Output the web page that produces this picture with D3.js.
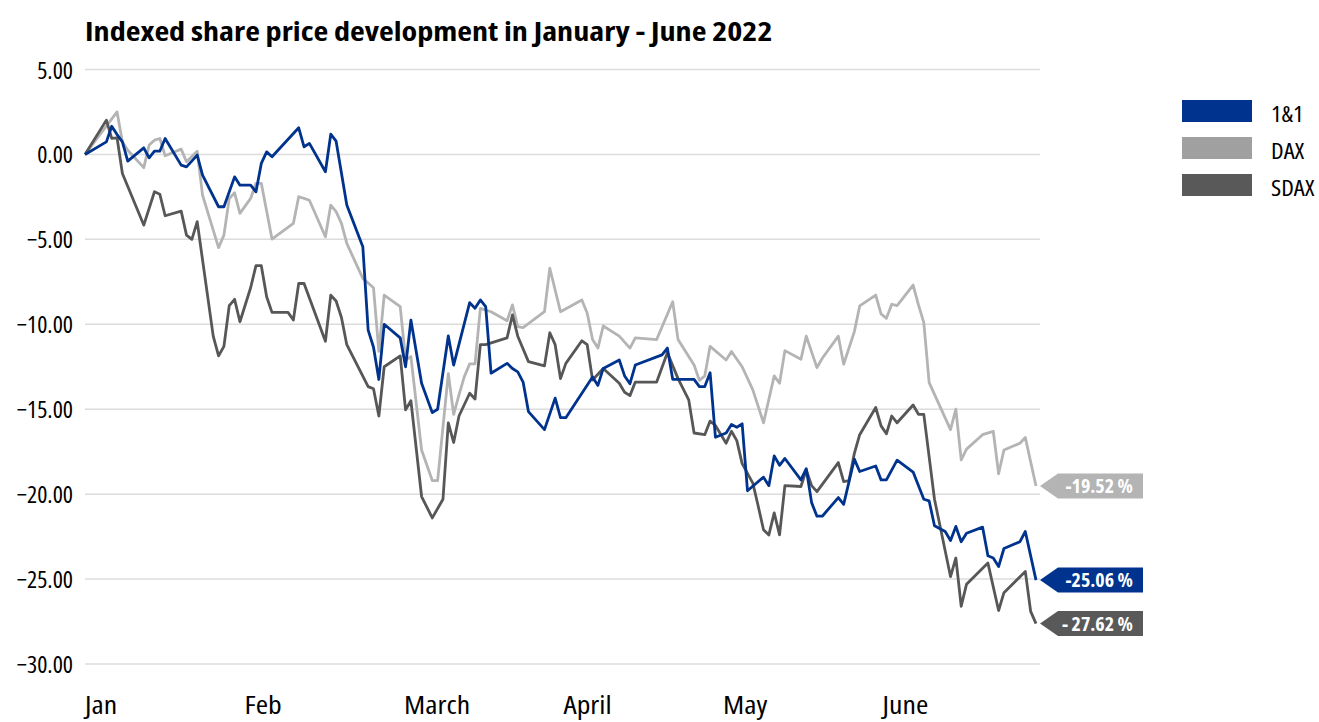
<!DOCTYPE html>
<meta charset="utf-8">
<style>
body { margin: 0; background: #fff; }
text { font-family: "Open Sans", "Liberation Sans Narrow", sans-serif; font-stretch: 75%; }
.grid line { stroke: #dcdcdc; stroke-width: 1.5px; }
.series { fill: none; stroke-width: 2.8px; stroke-linejoin: round; }
</style>
<body>
<script src="https://d3js.org/d3.v7.min.js"></script>
<script>

const width = 1319
const height = 722

// x = calendar days since 3 Jan 2022, y = indexed change in %
const days1and1 = [0,4,5,6,7,8,11,12,13,14,15,18,19,21,22,25,26,28,29,31,32,33,34,35,40,41,42,45,46,47,49,52,53,54,55,56,59,60,61,63,65,66,68,69,72,73,74,75,76,79,80,81,82,83,86,88,89,90,95,96,97,100,101,102,103,108,109,110,114,115,116,117,118,120,121,122,123,124,127,128,129,130,131,134,135,136,137,138,141,142,144,145,148,149,150,152,155,157,158,159,161,162,163,164,165,168,169,170,171,172,175,176,178]
const values1and1 = [0,0.74,1.66,1.17,0.74,-0.39,0.39,-0.2,0.19,0.19,0.94,-0.63,-0.73,-0.04,-1.22,-3.08,-3.08,-1.32,-1.81,-1.81,-2.2,-0.53,0.15,-0.14,1.57,0.45,0.65,-1.02,1.19,0.78,-2.98,-5.43,-10.34,-11.35,-13.25,-10.0,-10.8,-12.5,-9.75,-13.47,-15.2,-15.0,-10.69,-12.4,-8.73,-9.06,-8.57,-8.96,-12.88,-12.3,-12.6,-12.8,-13.4,-15.14,-16.2,-14.35,-15.5,-15.5,-13.1,-13.6,-12.6,-12.1,-13.04,-13.5,-12.4,-11.8,-11.4,-13.24,-13.24,-13.67,-13.67,-12.85,-16.65,-16.4,-15.9,-16.06,-15.86,-19.8,-19.0,-19.5,-17.75,-18.3,-17.9,-19.16,-18.5,-20.5,-21.3,-21.3,-20.2,-20.6,-17.94,-18.67,-18.34,-19.16,-19.16,-18.0,-18.7,-20.3,-20.4,-21.86,-22.2,-22.73,-21.9,-22.8,-22.3,-21.94,-23.63,-23.76,-24.26,-23.2,-22.8,-22.2,-25.06]

const daysDax = [0,6,7,8,11,12,13,14,15,18,19,21,22,25,26,27,28,29,31,32,33,35,39,40,41,42,45,46,47,48,49,52,54,55,56,59,60,61,63,65,66,68,69,70,71,72,73,74,76,79,80,81,82,86,87,89,93,94,95,96,97,100,102,103,107,110,111,114,115,116,117,120,121,123,125,127,129,130,131,134,135,137,138,141,142,144,145,148,149,150,151,152,155,156,157,158,162,163,164,165,168,170,171,172,175,176,178]
const valuesDax = [0,2.5,0.74,0.25,-0.78,0.55,0.84,0.94,-0.08,0.31,-0.43,0.19,-2.4,-5.49,-4.75,-2.59,-2.26,-3.47,-2.59,-1.7,-1.7,-4.98,-4.06,-2.49,-2.59,-2.7,-4.85,-2.98,-3.37,-4.06,-5.24,-7.3,-7.85,-11.6,-8.28,-8.96,-12.1,-11.9,-17.4,-19.2,-19.2,-12.9,-15.3,-14.16,-13.08,-12.33,-12.33,-9.06,-9.26,-9.79,-8.86,-10.14,-10.2,-9.26,-6.7,-9.26,-8.57,-9.35,-10.9,-11.4,-10.1,-10.7,-11.4,-10.8,-10.9,-8.67,-10.9,-12.4,-13.3,-13.04,-11.3,-12.1,-11.6,-12.5,-13.86,-15.8,-13.04,-13.47,-11.55,-12.06,-10.7,-12.55,-12.0,-10.7,-12.35,-10.43,-8.92,-8.28,-9.39,-9.65,-8.82,-8.9,-7.69,-8.86,-9.9,-13.43,-16.2,-15.0,-17.98,-17.35,-16.5,-16.3,-18.8,-17.4,-17.0,-16.67,-19.52]

const daysSdax = [0,4,5,6,7,11,13,14,15,18,19,20,21,24,25,26,27,28,29,31,32,33,34,35,38,39,40,41,45,46,47,48,49,53,54,55,56,59,60,61,63,65,67,68,69,70,72,73,74,75,79,80,81,83,86,87,88,89,90,93,94,95,97,100,101,102,103,107,109,111,113,114,116,117,118,120,121,122,123,125,126,127,128,129,130,131,134,135,136,137,141,142,143,144,145,148,149,150,151,152,155,156,157,159,162,163,164,165,169,171,172,176,177,178]
const valuesSdax = [0,2.02,0.94,0.98,-1.12,-4.16,-2.2,-2.34,-3.61,-3.34,-4.75,-5.0,-3.96,-10.7,-11.86,-11.3,-8.9,-8.53,-9.85,-7.85,-6.55,-6.55,-8.38,-9.3,-9.3,-9.75,-7.59,-7.6,-11.0,-8.28,-8.63,-9.6,-11.2,-13.67,-13.8,-15.4,-12.5,-11.86,-15.04,-14.5,-20.14,-21.4,-20.3,-15.8,-16.96,-15.4,-14.06,-14.4,-11.2,-11.2,-10.8,-9.45,-10.7,-12.2,-12.45,-10.5,-11.2,-13.2,-12.3,-10.97,-11.2,-13.28,-12.6,-13.47,-14.0,-14.2,-13.4,-13.4,-11.67,-13.2,-14.45,-16.4,-16.5,-15.7,-15.96,-17.0,-16.3,-16.85,-18.2,-19.35,-20.7,-22.1,-22.4,-21.1,-22.4,-19.5,-19.55,-18.57,-19.5,-19.85,-18.14,-19.26,-19.2,-17.6,-16.5,-14.9,-15.98,-16.45,-15.4,-15.8,-14.75,-15.3,-15.3,-20.3,-24.85,-23.76,-26.6,-25.3,-24.06,-26.85,-25.8,-24.55,-26.9,-27.62]

const months = ['Jan', 'Feb', 'March', 'April', 'May', 'June']
const yTicks = [5, 0, -5, -10, -15, -20, -25, -30]
const seriesNames = ['1&1', 'DAX', 'SDAX']
const legendColors = ['#00338d', '#a0a0a0', '#595959']
const lineColors = ['#00338d', '#b4b4b4', '#575757']
const endLabels = ['-25.06 %', '-19.52 %', '- 27.62 %']

const series = [
  { name: seriesNames[0], days: days1and1, values: values1and1 },
  { name: seriesNames[1], days: daysDax, values: valuesDax },
  { name: seriesNames[2], days: daysSdax, values: valuesSdax }
]

// the original font is a bit wider than condensed Open Sans, so widen it
const wide = (tx, ty, sx) => `translate(${tx},${ty}) scale(${sx},1)`

const svg = d3.select('body').append('svg')
  .attr('width', width)
  .attr('height', height)

const x = d3.scaleLinear().domain([0, 178]).range([85, 1036])
const y = d3.scaleLinear().domain([-30, 5]).range([664, 69.5])
const monthScale = d3.scaleBand().domain(months).range([85, 1042])

// title
svg.append('text')
  .attr('transform', wide(85, 41, 1.17))
  .style('font-size', '27.5px').style('font-weight', 'bold')
  .text('Indexed share price development in January - June 2022')

// gridlines
svg.append('g').attr('class', 'grid')
  .selectAll('line').data(yTicks).join('line')
  .attr('x1', 85).attr('x2', 1040)
  .attr('y1', d => y(d)).attr('y2', d => y(d))

// y labels
svg.append('g')
  .selectAll('text').data(yTicks).join('text')
  .attr('transform', d => wide(73, y(d) + 9, 1.04))
  .attr('text-anchor', 'end')
  .style('font-size', '23px')
  .text(d => d3.format('.2f')(d))

// month labels
svg.append('g')
  .selectAll('text').data(months).join('text')
  .attr('transform', d => wide(monthScale(d), 714, 1.17))
  .style('font-size', '25.5px')
  .text(d => d)

// lines, DAX and SDAX first so 1&1 sits on top
const line = d3.line()
  .x(d => x(d[0]))
  .y(d => y(d[1]))

const order = [1, 2, 0]
order.forEach(k => {
  const s = series[k]
  svg.append('path')
    .datum(s.days.map((d, i) => [d, s.values[i]]))
    .attr('class', 'series')
    .attr('stroke', lineColors[k])
    .attr('d', line)
})

// end value tags
series.forEach((s, k) => {
  const last = s.values[s.values.length - 1]
  const ty = y(last)
  const g = svg.append('g').attr('transform', `translate(1040,${ty})`)
  g.append('path')
    .attr('d', 'M0,0 L18,-12.5 L103,-12.5 L103,12.5 L18,12.5 Z')
    .attr('fill', k === 1 ? '#b4b4b4' : legendColors[k])
  g.append('text')
    .attr('transform', wide(93, 7, 1.05))
    .attr('text-anchor', 'end')
    .attr('fill', '#fff')
    .style('font-size', '19px').style('font-weight', 'bold')
    .text(endLabels[k])
})

// legend
const legend = svg.append('g')
seriesNames.forEach((n, i) => {
  legend.append('rect')
    .attr('x', 1182).attr('y', 100 + i * 37)
    .attr('width', 70).attr('height', 22)
    .attr('fill', legendColors[i])
  legend.append('text')
    .attr('transform', wide(1271, 122 + i * 37, 1.18))
    .style('font-size', '21px')
    .text(n)
})

</script>
</body>
